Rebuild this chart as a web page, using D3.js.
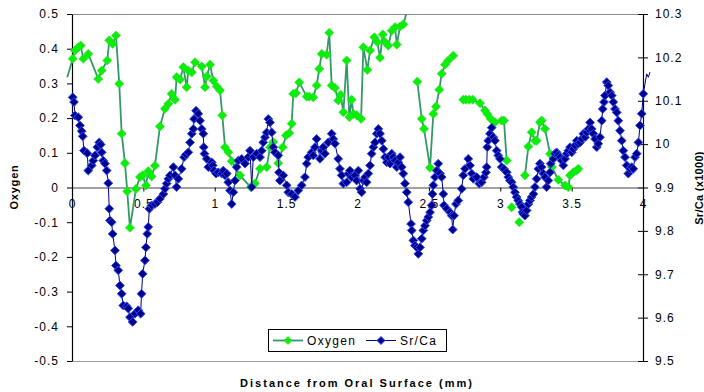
<!DOCTYPE html>
<html>
<head>
<meta charset="utf-8">
<script src="https://cdn.jsdelivr.net/npm/d3@7"></script>
<style>
  body { margin: 0; background: #fff; }
  text { font-family: "Liberation Sans", Arial, sans-serif; fill: #000; }
</style>
</head>
<body>
<svg id="chart" width="704" height="392"></svg>
<script>
// Oxygen isotope profile (left axis); null marks missing samples
const oxygenDistance = [-0.033,
  0.005,0.021,0.044,0.061,0.079,0.114,
  0.184,0.208,0.247,0.261,0.285,0.308,0.331,0.348,0.371,0.387,
  0.406,0.448,0.476,0.495,0.518,0.534,0.558,0.581,0.616,0.651,
  0.675,0.698,0.722,0.733,0.757,0.780,0.803,0.815,0.839,0.862,
  0.909,0.932,0.944,0.967,0.990,1.014,1.037,1.053,1.072,1.095,
  1.119,1.177,1.252,1.282,1.317,1.364,1.387,1.410,1.445,1.476,
  1.499,1.522,1.539,1.550,1.569,1.592,1.644,1.662,1.690,1.714,
  1.732,1.749,1.784,1.802,1.819,1.842,1.865,1.882,1.901,1.924,
  1.943,1.959,1.971,1.994,2.025,2.041,2.069,2.088,2.118,2.139,
  2.158,2.177,2.193,2.216,2.240,2.263,2.275,2.298,2.321,2.361,
  2.390,
  2.419,2.450,2.466,2.508,2.531,2.550,2.573,2.590,2.613,2.636,2.671,
  2.700,
  2.741,2.760,2.783,2.807,2.858,2.893,2.909,2.933,2.963,3.010,
  3.026,3.045,3.060,3.080,3.100,3.133,3.150,3.173,3.197,3.220,3.243,3.255,3.278,
  3.290,3.313,3.349,3.361,3.407,3.454,3.477,3.489,3.512,3.536,
  3.547];
const oxygenValues = [0.318,
  0.371,0.395,0.404,0.409,0.371,0.385,
  0.313,0.337,0.366,0.424,0.414,0.438,0.299,0.155,0.070,-0.011,
  -0.116,-0.004,0.030,0.035,0.006,0.047,0.032,0.063,0.176,0.227,
  0.241,0.270,0.253,0.318,0.311,0.347,0.289,0.337,0.332,0.361,
  0.349,0.289,0.320,0.354,0.308,0.291,0.280,0.208,0.116,0.102,
  0.076,0.035,0.001,0.012,0.054,0.059,0.116,0.131,0.070,0.116,
  0.150,0.157,0.184,0.270,0.272,0.303,0.262,0.262,0.260,0.294,
  0.342,0.385,0.383,0.446,0.294,0.287,0.251,0.267,0.217,0.366,
  0.203,0.253,0.212,0.208,0.198,0.404,0.339,0.395,0.433,0.419,
  0.374,0.441,0.419,0.409,0.452,0.462,0.412,0.464,0.470,0.530,
  null,
  0.305,0.198,0.169,0.057,0.212,0.233,0.282,0.328,0.354,0.366,0.380,
  null,
  0.253,0.253,0.253,0.253,0.243,0.222,0.212,0.198,0.188,0.193,
  0.193,0.078,null,-0.057,null,-0.100,null,0.035,0.118,0.159,0.135,0.135,0.188,
  0.193,0.169,0.097,0.059,0.022,0.006,0.001,0.035,0.044,0.049,
  0.054];

// Sr/Ca ratio profile (right axis, x1000)
const srCaDistance = [
  0.005,0.014,0.021,0.044,0.056,0.068,0.075,0.084,0.107,0.114,
  0.138,0.149,0.161,0.177,0.191,0.201,0.208,0.219,0.231,0.243,
  0.254,0.261,0.266,0.278,0.285,0.301,0.308,0.324,0.336,0.348,
  0.359,0.383,0.394,0.406,0.425,0.441,0.464,0.481,0.487,0.495,
  0.511,0.518,0.527,0.534,0.542,0.558,0.581,0.598,0.616,0.640,
  0.651,0.663,0.675,0.687,0.710,0.722,0.733,0.745,0.768,0.785,
  0.799,0.815,0.827,0.839,0.850,0.855,0.869,0.885,0.897,0.909,
  0.920,0.923,0.928,0.944,0.955,0.979,0.986,0.995,1.009,1.025,
  1.049,1.060,1.072,1.084,1.095,1.107,1.119,1.130,1.142,1.154,
  1.165,1.189,1.212,1.235,1.247,1.259,1.270,1.294,1.317,1.329,
  1.340,1.352,1.364,1.375,1.387,1.399,1.410,1.422,1.445,1.450,
  1.457,1.480,1.504,1.515,1.539,1.562,1.585,1.609,1.632,1.644,
  1.655,1.679,1.690,1.702,1.714,1.737,1.749,1.760,1.772,1.795,
  1.819,1.830,1.842,1.865,1.877,1.889,1.901,1.924,1.936,1.947,
  1.959,1.982,1.994,2.006,2.018,2.029,2.041,2.053,2.064,2.076,
  2.088,2.099,2.111,2.123,2.135,2.146,2.158,2.170,2.181,2.193,
  2.205,2.216,2.228,2.240,2.251,2.263,2.275,2.286,2.298,2.310,
  2.321,2.333,2.345,2.356,2.375,2.380,2.391,2.403,2.415,2.426,
  2.438,2.450,2.461,2.473,2.485,2.496,2.508,2.520,2.525,2.531,
  2.543,2.555,2.566,2.578,2.590,2.601,2.606,2.625,2.648,2.660,
  2.667,2.676,2.690,2.706,2.730,2.741,2.753,2.776,2.788,2.800,
  2.811,2.835,2.853,2.870,2.886,2.900,2.905,2.909,2.916,2.928,
  2.940,2.951,2.963,2.975,2.986,2.998,3.010,3.026,3.045,3.056,
  3.068,3.080,3.091,3.103,3.115,3.126,3.138,3.150,3.156,3.161,
  3.173,3.185,3.197,3.208,3.220,3.232,3.243,3.255,3.267,3.278,
  3.290,3.302,3.313,3.325,3.337,3.349,3.353,3.372,3.384,3.395,
  3.407,3.419,3.430,3.442,3.454,3.466,3.477,3.489,3.501,3.512,
  3.524,3.536,3.547,3.559,3.571,3.582,3.594,3.606,3.617,3.629,
  3.641,3.652,3.664,3.676,3.687,3.699,3.711,3.718,3.727,3.734,
  3.746,3.757,3.769,3.781,3.792,3.804,3.816,3.827,3.839,3.851,
  3.862,3.874,3.886,3.897,3.909,3.921,3.932,3.944,3.956,3.968,
  3.979,3.991,4.002,4.014,4.026,4.037,4.049];
const srCaValues = [
  10.108,10.097,10.066,10.062,10.043,10.030,10.018,9.985,9.979,9.939,
  9.951,9.962,9.974,9.993,10.004,9.999,9.981,9.962,9.955,9.939,
  9.910,9.851,9.824,9.820,9.793,9.755,9.720,9.709,9.674,9.655,
  9.628,9.626,9.621,9.601,9.590,9.609,9.617,9.609,9.655,9.701,
  9.732,9.762,9.793,9.809,9.851,9.859,9.862,9.866,9.874,9.885,
  9.897,9.909,9.920,9.928,9.947,9.928,9.901,9.920,9.943,9.970,
  9.976,9.981,10.004,10.024,10.035,10.058,10.077,10.070,10.054,10.035,
  10.024,9.993,9.978,9.966,9.947,9.958,9.951,9.939,9.932,9.935,
  9.932,9.939,9.928,9.932,9.912,9.893,9.862,9.889,9.916,9.947,
  9.962,9.966,9.955,9.970,9.985,9.901,9.970,9.978,9.970,9.985,
  10.004,10.016,10.027,10.058,10.050,10.027,9.993,9.981,9.974,9.935,
  9.916,9.928,9.905,9.889,9.885,9.878,9.893,9.905,9.924,9.955,
  9.970,9.981,9.974,9.993,10.012,9.966,9.985,9.993,9.978,10.004,
  10.024,10.012,10.001,9.966,9.943,9.928,9.909,9.912,9.932,9.939,
  9.924,9.928,9.916,9.939,9.897,9.889,9.916,9.924,9.912,9.932,
  9.951,9.978,9.993,10.004,10.024,10.035,10.024,10.008,9.989,9.970,
  9.958,9.970,9.955,9.978,9.970,9.962,9.947,9.958,9.970,9.947,
  9.932,9.909,9.889,9.866,9.816,9.801,9.778,9.766,9.762,9.747,
  9.762,9.782,9.801,9.812,9.824,9.832,9.843,9.859,9.885,9.905,
  9.924,9.939,9.955,9.932,9.924,9.885,9.859,9.851,9.843,9.835,
  9.803,9.835,9.862,9.870,9.897,9.928,9.943,9.966,9.951,9.932,
  9.920,9.924,9.909,9.912,9.924,9.935,9.947,9.993,10.008,10.024,
  10.038,10.016,10.008,9.985,9.974,9.966,9.947,9.943,9.935,9.924,
  9.916,9.912,9.901,9.889,9.878,9.870,9.862,9.855,9.843,9.839,
  9.835,9.847,9.862,9.870,9.878,9.885,9.901,9.920,9.943,9.955,
  9.947,9.932,9.924,9.901,9.916,9.935,9.955,9.966,9.978,9.981,
  9.974,9.970,9.962,9.951,9.966,9.978,9.985,9.993,9.981,9.989,
  9.997,10.008,10.001,10.004,10.012,10.024,10.016,10.027,10.035,10.050,
  10.035,10.024,10.012,9.993,10.001,10.016,10.054,10.081,10.097,10.112,
  10.143,10.135,10.120,10.112,10.097,10.081,10.073,10.054,10.031,10.008,
  9.985,9.970,9.951,9.932,9.943,9.947,9.943,9.970,9.978,10.004,
  10.043,10.070,10.116,10.139,10.162,10.154,10.166];

const distanceTicks = [0, 0.5, 1, 1.5, 2, 2.5, 3, 3.5, 4];
const oxygenTicks = [-0.5, -0.4, -0.3, -0.2, -0.1, 0, 0.1, 0.2, 0.3, 0.4, 0.5];
const srCaTicks = [9.5, 9.6, 9.7, 9.8, 9.9, 10, 10.1, 10.2, 10.3];
const seriesNames = ["Oxygen", "Sr/Ca"];
const xTitle = "Distance from Oral Surface (mm)";
const yLeftTitle = "Oxygen";
const yRightTitle = "Sr/Ca (x1000)";

const W = 704, H = 392;
const plot = { left: 72, right: 643, top: 14, bottom: 361 };

const x = d3.scaleLinear().domain([0, 4]).range([plot.left, plot.right]);
const yOxy = d3.scaleLinear().domain([-0.5, 0.5]).range([plot.bottom, plot.top]);
const ySr = d3.scaleLinear().domain([9.5, 10.3]).range([plot.bottom, plot.top]);

const fmt = d => String(+d.toFixed(1));

const svg = d3.select("#chart");

svg.append("defs").append("clipPath").attr("id", "plotClip")
  .append("rect").attr("x", 0).attr("y", plot.top)
  .attr("width", W).attr("height", plot.bottom - plot.top);

// plot frame: grey top and bottom edges
svg.append("line").attr("x1", plot.left).attr("x2", plot.right)
  .attr("y1", plot.top + 0.5).attr("y2", plot.top + 0.5)
  .attr("stroke", "#8c8c8c").attr("stroke-width", 1.2);
svg.append("line").attr("x1", plot.left).attr("x2", plot.right)
  .attr("y1", plot.bottom + 0.5).attr("y2", plot.bottom + 0.5)
  .attr("stroke", "#a0a0a0").attr("stroke-width", 1.2);

// left axis (Oxygen)
const gL = svg.append("g").attr("transform", `translate(${plot.left},0)`)
  .call(d3.axisLeft(yOxy).tickValues(oxygenTicks).tickSize(5).tickSizeOuter(0)
    .tickPadding(8).tickFormat(fmt));

// right axis (Sr/Ca)
const gR = svg.append("g").attr("transform", `translate(${plot.right},0)`)
  .call(d3.axisRight(ySr).tickValues(srCaTicks).tickSize(5).tickSizeOuter(0)
    .tickPadding(7).tickFormat(fmt));
gR.selectAll(".tick line").attr("x1", -5);

// distance axis along zero oxygen
const gX = svg.append("g").attr("transform", `translate(0,${yOxy(0)})`)
  .call(d3.axisBottom(x).tickValues(distanceTicks).tickSize(4).tickSizeOuter(0)
    .tickPadding(8).tickFormat(d => String(d)));

[gL, gR, gX].forEach(g => {
  g.selectAll("text").style("font-size", "12px").style("letter-spacing", "1px")
    .style("font-family", '"Liberation Sans", Arial, sans-serif').attr("fill", "#000");
  g.selectAll("line").attr("stroke", "#000");
  g.select(".domain").attr("stroke", "#000").attr("stroke-width", 1.2);
});
gX.select(".domain").attr("stroke", "#444");

const diamond = r => `M0,${-r}L${r},0L0,${r}L${-r},0Z`;
const inRange = d => d.x >= 0 && d.x <= 4.005;

// Oxygen series
const oxy = oxygenDistance.map((d, i) => ({ x: d, v: oxygenValues[i] }));
const oxyLine = d3.line().defined(d => d.v !== null).x(d => x(d.x)).y(d => yOxy(d.v));
const gO = svg.append("g").attr("clip-path", "url(#plotClip)");
gO.append("path").datum(oxy).attr("d", oxyLine)
  .attr("fill", "none").attr("stroke", "#339966").attr("stroke-width", 1.8);
gO.selectAll("path.m").data(oxy.filter(d => d.v !== null && inRange(d))).join("path")
  .attr("class", "m").attr("d", diamond(4.6))
  .attr("transform", d => `translate(${x(d.x)},${yOxy(d.v)})`)
  .attr("fill", "#0aee0a").attr("stroke", "#22dd22").attr("stroke-width", 0.5);

// Sr/Ca series
const sr = srCaDistance.map((d, i) => ({ x: d, v: srCaValues[i] }));
const srLine = d3.line().x(d => x(d.x)).y(d => ySr(d.v));
const gS = svg.append("g").attr("clip-path", "url(#plotClip)");
gS.append("path").datum(sr).attr("d", srLine)
  .attr("fill", "none").attr("stroke", "#000080").attr("stroke-width", 1);
gS.selectAll("path.m").data(sr.filter(inRange)).join("path")
  .attr("class", "m").attr("d", diamond(4.4))
  .attr("transform", d => `translate(${x(d.x)},${ySr(d.v)})`)
  .attr("fill", "#000088").attr("stroke", "#2d4cff").attr("stroke-width", 1);

// legend
const lg = svg.append("g");
lg.append("rect").attr("x", 268.5).attr("y", 329.5).attr("width", 178).attr("height", 22)
  .attr("fill", "#fff").attr("stroke", "#000").attr("stroke-width", 1);
const legendItems = [
  { name: seriesNames[0], x0: 273, line: "#339966", lw: 1.8, fill: "#0aee0a", stroke: "#22dd22", sw: 0.5 },
  { name: seriesNames[1], x0: 366, line: "#000080", lw: 1, fill: "#000088", stroke: "#2d4cff", sw: 1 }
];
legendItems.forEach(it => {
  lg.append("line").attr("x1", it.x0).attr("x2", it.x0 + 30).attr("y1", 340.5).attr("y2", 340.5)
    .attr("stroke", it.line).attr("stroke-width", it.lw);
  lg.append("path").attr("d", diamond(4)).attr("transform", `translate(${it.x0 + 15},340.5)`)
    .attr("fill", it.fill).attr("stroke", it.stroke).attr("stroke-width", it.sw);
  lg.append("text").attr("x", it.x0 + 34).attr("y", 345)
    .style("font-size", "12px").style("letter-spacing", "1.3px").text(it.name);
});

// axis titles
svg.append("text").attr("x", 357).attr("y", 387).attr("text-anchor", "middle")
  .style("font-size", "11px").style("font-weight", "bold").style("letter-spacing", "2px")
  .text(xTitle);
svg.append("text").attr("transform", "translate(18,187) rotate(-90)").attr("text-anchor", "middle")
  .style("font-size", "11px").style("font-weight", "bold").style("letter-spacing", "0.8px")
  .text(yLeftTitle);
svg.append("text").attr("transform", "translate(703,188) rotate(-90)").attr("text-anchor", "middle")
  .style("font-size", "11px").style("font-weight", "bold").style("letter-spacing", "0.3px")
  .text(yRightTitle);
</script>
</body>
</html>
